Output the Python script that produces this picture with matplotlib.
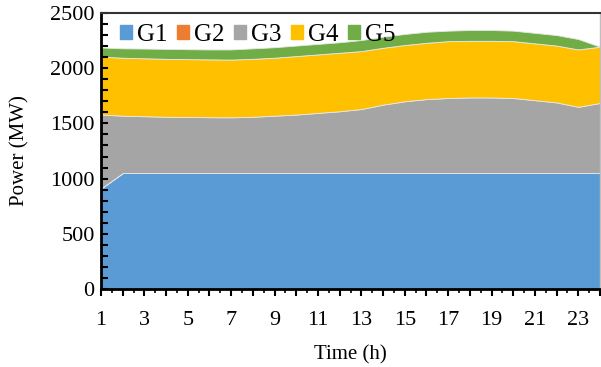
import matplotlib
matplotlib.use("Agg")
import matplotlib.pyplot as plt
import numpy as np
from matplotlib.ticker import MultipleLocator, FixedLocator

plt.rcParams['font.family'] = ['Liberation Serif', 'DejaVu Serif']

hours = list(range(1, 25))
g1 = [910] + [1050] * 23
g2 = [0] * 24
g3_top = [1580, 1570, 1565, 1560, 1558, 1556, 1555, 1560, 1570, 1580, 1595, 1610,
          1630, 1670, 1700, 1720, 1730, 1735, 1735, 1730, 1710, 1690, 1650, 1685]
g4_top = [2105, 2095, 2090, 2085, 2082, 2080, 2078, 2085, 2095, 2110, 2125, 2140,
          2155, 2185, 2210, 2230, 2245, 2248, 2248, 2245, 2225, 2205, 2170, 2195]
g5_top = [2188, 2180, 2178, 2175, 2172, 2170, 2170, 2180, 2190, 2205, 2220, 2235,
          2255, 2285, 2310, 2330, 2340, 2346, 2346, 2340, 2320, 2300, 2264, 2195]
g3 = [a - b - c for a, b, c in zip(g3_top, g1, g2)]
g4 = [a - b for a, b in zip(g4_top, g3_top)]
g5 = [a - b for a, b in zip(g5_top, g4_top)]

labels = ['G1', 'G2', 'G3', 'G4', 'G5']
colors = ['#5B9BD5', '#ED7D31', '#A5A5A5', '#FFC000', '#70AD47']

fig = plt.figure(figsize=(6.01, 3.67), dpi=100)
ax = fig.add_axes([101/601, 1 - 289/367, 499/601, 276/367])

polys = ax.stackplot(hours, g1, g2, g3, g4, g5, labels=labels, colors=colors,
                     linewidth=0.6, edgecolor='#e8e8e8')

ax.set_xlim(1, 24)
ax.set_ylim(0, 2500)

ax.xaxis.set_major_locator(FixedLocator(hours))
ax.set_xticklabels([str(h) if h % 2 == 1 else '' for h in hours])
ax.xaxis.set_minor_locator(MultipleLocator(0.5))
ax.yaxis.set_major_locator(MultipleLocator(500))
ax.yaxis.set_minor_locator(MultipleLocator(100))

ax.tick_params(axis='x', which='major', direction='out', length=5, width=1.5,
               labelsize=16, pad=10.5)
ax.tick_params(axis='x', which='minor', direction='out', length=3, width=1.2)
ax.tick_params(axis='y', which='both', direction='in', length=5, width=1.5,
               labelsize=16, pad=4.5)

for s in ['left', 'bottom']:
    ax.spines[s].set_linewidth(2)
    ax.spines[s].set_color('black')
ax.spines['top'].set_linewidth(1.5)
ax.spines['top'].set_color('#333333')
ax.spines['right'].set_linewidth(1)
ax.spines['right'].set_color('#bfbfbf')

ax.set_xlabel('Time (h)', fontsize=15, labelpad=11)
ax.set_ylabel('Power (MW)', fontsize=15, labelpad=15)

handles = [plt.Rectangle((0, 0), 1, 1, color=c) for c in colors]
leg = ax.legend(handles, labels, loc='upper left', ncol=5, frameon=False,
                fontsize=18, handlelength=0.48, handleheight=0.48,
                handletextpad=0.2, columnspacing=0.38, borderpad=0,
                bbox_to_anchor=(0.038, 0.96), borderaxespad=0)

fig.savefig('out.png', dpi=100)
